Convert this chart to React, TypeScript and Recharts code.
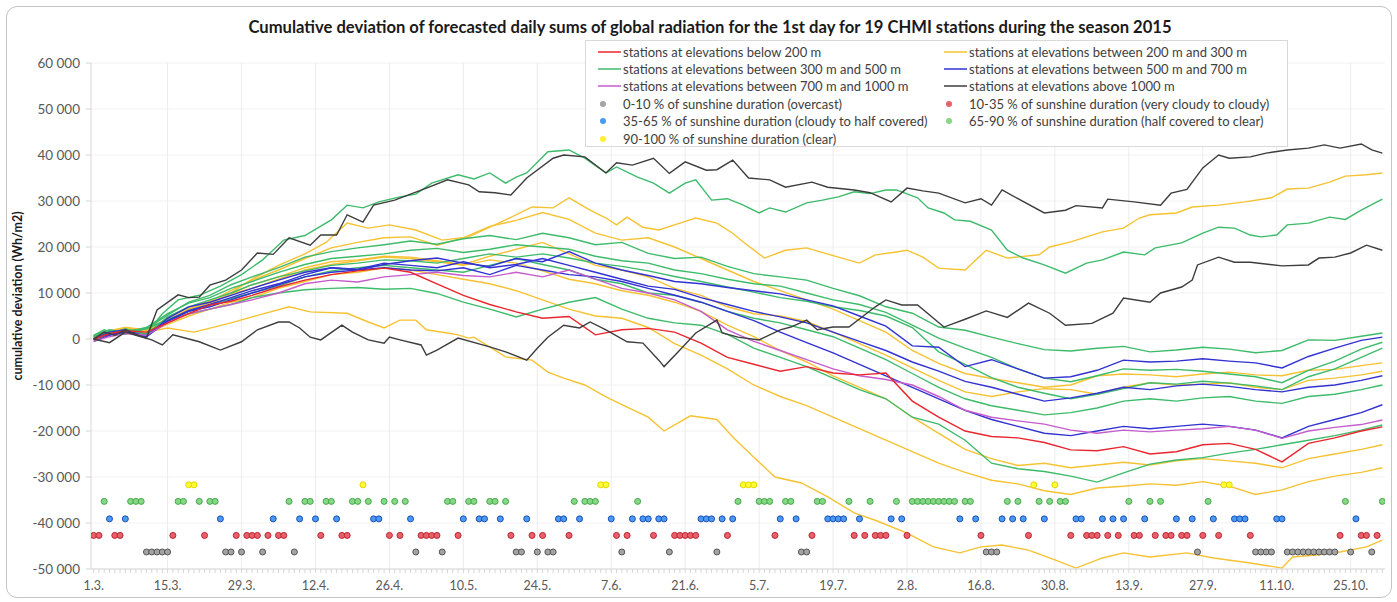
import React from "react";
import { ComposedChart, Line, Scatter, XAxis, YAxis, CartesianGrid, ReferenceLine } from "recharts";

const FONT = "Lato, 'Open Sans', sans-serif";

const xLabels = ["1.3.", "15.3.", "29.3.", "12.4.", "26.4.", "10.5.", "24.5.", "7.6.", "21.6.", "5.7.", "19.7.", "2.8.", "16.8.", "30.8.", "13.9.", "27.9.", "11.10.", "25.10."];
const labelDays = [0, 14, 28, 42, 56, 70, 84, 98, 112, 126, 140, 154, 168, 182, 196, 210, 224, 238];
const yTicks = [-50000, -40000, -30000, -20000, -10000, 0, 10000, 20000, 30000, 40000, 50000, 60000];

// days (0 = 1.3.) sampled for the bundle of stations
const midDays = [0, 3, 6, 10, 14, 18, 22, 26, 30, 35, 40, 45, 50, 55, 60, 65, 70, 75, 80, 85, 90, 95, 100, 105, 110, 115, 120, 125, 130, 135, 140, 145, 150, 155, 160, 165, 170, 175, 180, 185, 190, 195, 200, 205, 210, 215, 220, 225, 230, 235, 240, 244];

const redLow = [0, 1200, 1800, 1500, 3500, 5500, 7400, 8200, 9500, 11300, 12800, 14000, 14800, 15400, 14500, 12000, 9500, 7500, 5900, 4500, 4900, 900, 2000, 2300, 1500, -900, -4000, -5500, -7000, -6000, -7400, -7800, -7400, -13500, -17000, -20000, -21200, -21500, -22500, -24100, -24300, -23400, -25000, -24500, -23000, -22700, -24000, -26700, -22700, -21500, -20000, -19100];

const yellowB = [300, 1600, 2500, 2000, 4500, 6800, 8200, 10500, 12800, 15000, 17500, 19800, 21000, 22000, 22200, 20400, 22000, 24500, 25800, 27500, 26000, 23000, 21500, 22000, 20000, 17500, 15000, 12500, 10500, 8500, 6500, 4000, 1500, -2500, -5300, -7500, -8600, -9500, -10500, -10000, -8000, -7600, -7800, -8200, -7600, -7200, -7800, -8000, -6800, -6600, -5800, -5200];
const yellowC = [-300, 1000, 2000, 1500, 4000, 6500, 7800, 9800, 11800, 13500, 15500, 16800, 17200, 18000, 17800, 17000, 16200, 18000, 19500, 21000, 18500, 16000, 15000, 13500, 11000, 9500, 7000, 5500, 5000, 3800, 1500, -1000, -3500, -6300, -9000, -11500, -12500, -11500, -10800, -11000, -12000, -10500, -9500, -10000, -9800, -9500, -10500, -11000, -9000, -8500, -7800, -7000];
const yellowD = [0, 1500, 2200, 1800, 4000, 6500, 8000, 9800, 11000, 13000, 15000, 16200, 17000, 17800, 17500, 16800, 16000, 17200, 16500, 14800, 13000, 12000, 10500, 9500, 8000, 6000, 3000, 500, -2500, -5000, -8000, -10500, -13000, -17000, -20500, -24000, -26000, -27500, -27000, -28000, -27400, -26800, -27400, -26500, -26000, -26500, -27000, -28000, -26000, -25000, -24000, -23000];
const yellowE = [0, 1000, 1500, 1200, 3200, 5000, 6500, 8000, 9000, 11000, 12500, 14000, 14500, 15500, 15000, 14000, 13000, 12000, 10500, 8500, 6500, 5000, 4500, 2500, -1000, -3500, -6500, -10000, -12500, -14500, -17000, -19500, -22000, -24500, -27000, -29000, -30700, -31500, -33000, -33800, -32400, -32000, -31500, -31800, -31000, -32000, -33800, -32800, -31000, -29800, -29000, -28000];

const greenB = [500, 1800, 1200, 2200, 5200, 8000, 9500, 11800, 13500, 15500, 17800, 19000, 19800, 20500, 21300, 20600, 21800, 22500, 21600, 23000, 22000, 20500, 21000, 18600, 17500, 17800, 15800, 14200, 13500, 12800, 11000, 9400, 7000, 5600, 2600, 1900, 400, -1000, -2300, -2600, -2000, -1600, -2800, -2400, -1800, -2200, -3000, -2500, -200, -300, 600, 1300];
const greenC = [800, 2000, 1500, 2500, 5500, 7800, 9000, 11000, 12500, 14500, 16200, 17500, 18000, 18500, 19300, 19700, 18800, 19500, 20500, 20000, 19500, 18000, 17000, 16500, 15000, 14200, 13000, 12000, 11500, 10000, 8500, 7500, 5800, 3000, 200, -2000, -4000, -6500, -8500, -9300, -8000, -6500, -6800, -6600, -7000, -7600, -8200, -9500, -6800, -4800, -2200, -700];
const greenD = [200, 1200, 2200, 1000, 4800, 7000, 8500, 10000, 11800, 13500, 14800, 16000, 16500, 17200, 17000, 16500, 17500, 18500, 17800, 18500, 17600, 16500, 15800, 14800, 13600, 12500, 11300, 10200, 9000, 8200, 7000, 6200, 5000, 2500, -2800, -5500, -8400, -10500, -11800, -13000, -12000, -10800, -9500, -9800, -9200, -9600, -10200, -11000, -8200, -6500, -4000, -2000];
const greenE = [0, 1300, 1800, 2200, 4200, 6000, 7300, 8800, 10000, 11500, 13500, 14800, 15500, 16000, 15500, 15000, 14500, 16000, 17500, 16200, 15000, 13000, 12000, 10000, 9500, 8000, 6000, 4500, 3500, 2000, 500, -2000, -4500, -7500, -10500, -13000, -14500, -15500, -16500, -16000, -15000, -13500, -13000, -13500, -12800, -12500, -13500, -14000, -12500, -12000, -11000, -10000];
const greenF = [500, 1500, 1000, 2500, 4000, 5500, 6500, 7500, 9000, 10000, 10700, 11000, 11200, 10800, 11000, 9900, 8000, 6500, 4800, 6500, 8000, 9000, 6500, 4500, 3500, 3000, 1000, -2000, -4000, -6000, -8500, -11000, -13000, -17000, -18500, -22000, -27000, -28200, -28800, -29800, -31100, -29100, -27200, -26300, -25800, -24800, -24000, -23000, -22000, -21000, -19800, -18700];

const blueA = [0, 1500, 2000, 500, 4500, 7000, 8000, 9500, 11000, 12800, 14500, 15500, 15000, 16200, 17000, 17600, 16500, 15800, 17500, 16800, 19000, 16500, 15000, 13800, 12500, 12000, 11200, 10500, 9800, 8500, 7200, 5000, 2800, -1500, -1800, -6000, -4500, -6500, -8500, -8200, -6800, -4600, -5000, -4800, -4300, -4800, -5200, -6300, -3800, -2000, -300, 400];
const blueB = [-500, 800, 1500, 800, 4000, 6200, 7500, 9000, 10500, 12000, 14000, 15500, 15200, 16500, 16000, 15500, 16800, 15500, 16200, 17500, 16000, 14500, 13000, 11500, 10800, 9000, 7500, 6000, 4800, 3500, 1500, -500, -2500, -5000, -7000, -9200, -10500, -12000, -13500, -12800, -11800, -10500, -11000, -10200, -9800, -10300, -11000, -11500, -10500, -10000, -9000, -8000];
const blueC = [0, 1000, 1500, 500, 3800, 6000, 7000, 8500, 10000, 11800, 13500, 14500, 15000, 15500, 15000, 14800, 15500, 14000, 16000, 15000, 14000, 13500, 12500, 11000, 9500, 8000, 6000, 4000, 1500, -800, -3000, -5500, -8000, -10500, -13000, -15500, -17500, -19000, -20500, -21000, -20000, -19000, -19500, -19000, -18500, -19000, -19800, -21500, -19000, -17500, -16000, -14300];

const magentaA = [-500, 500, 1200, 800, 3500, 5500, 6500, 7500, 8500, 10000, 12000, 12800, 12400, 13500, 14000, 14500, 13800, 13500, 14500, 13500, 15000, 13000, 11000, 10000, 8500, 6000, 2000, -500, -2500, -4500, -6500, -8000, -8800, -10000, -12500, -15500, -17000, -17800, -18500, -19800, -20500, -19800, -20200, -19800, -19500, -19000, -19800, -21600, -20000, -19200, -18600, -17600];

// stations traced separately (day, value)
const blackTop = [[0, 0], [2, 1500], [4, 800], [6, 2000], [8, 1000], [10, 200], [12, 6300], [16, 9600], [18, 9000], [20, 9100], [22, 11700], [25, 12800], [28, 15000], [31, 18700], [34, 18400], [37, 22000], [41, 20400], [43, 22600], [46, 22600], [48, 27000], [51, 25400], [53, 29100], [57, 30200], [63, 32800], [67, 34600], [71, 33500], [73, 32000], [76, 31800], [79, 31300], [82, 35000], [87, 39300], [89, 40000], [93, 39600], [97, 36100], [99, 38300], [102, 37800], [106, 39300], [109, 36000], [112, 38500], [116, 36700], [118, 36800], [121, 38900], [124, 35000], [128, 34600], [131, 33000], [136, 34100], [139, 33000], [144, 32400], [147, 31800], [151, 29800], [154, 32800], [157, 32200], [160, 31700], [165, 29600], [168, 30500], [170, 29100], [172, 32400], [175, 30500], [180, 27400], [184, 28000], [186, 29000], [191, 28500], [192, 30400], [197, 29800], [202, 29100], [204, 31700], [207, 32500], [210, 37200], [213, 40000], [215, 39300], [219, 39600], [222, 40400], [226, 41100], [230, 41500], [233, 42200], [236, 41500], [240, 42400], [242, 41100], [244, 40400]];
const blackLow = [[0, 0], [3, -800], [6, 1500], [8, 800], [11, -200], [13, -1300], [15, 900], [20, -600], [24, -2400], [28, -600], [31, 2000], [35, 3700], [37, 3700], [39, 2400], [41, 400], [43, -200], [47, 3000], [49, 1500], [52, -200], [55, -900], [56, 400], [58, -200], [62, -1300], [63, -3500], [65, -2400], [69, 200], [75, -1700], [78, -2800], [82, -4600], [84, -2000], [86, 400], [89, 3000], [92, 2400], [94, 3700], [97, 2000], [101, -600], [104, -900], [107, -4600], [108, -6000], [111, -2400], [114, 1300], [118, 4100], [119, 1300], [122, 400], [126, -200], [130, 2000], [132, 2600], [135, 4100], [137, 2000], [140, 2600], [143, 2600], [148, 7000], [150, 8500], [153, 7400], [156, 7400], [161, 2600], [165, 4300], [169, 6100], [173, 4700], [177, 7800], [181, 5600], [184, 3000], [189, 3400], [193, 5600], [195, 8900], [200, 8000], [202, 10000], [206, 11300], [208, 12800], [209, 16100], [213, 17800], [216, 16700], [219, 16700], [225, 15900], [230, 16100], [232, 17600], [235, 17800], [238, 18700], [241, 20400], [244, 19300]];
const greenTop = [[0, 800], [2, 2000], [4, 1200], [6, 2200], [8, 1500], [10, 1200], [13, 5500], [16, 8500], [20, 9500], [24, 11500], [28, 14000], [32, 17200], [36, 21500], [40, 22500], [45, 25900], [48, 29100], [51, 28500], [54, 29800], [58, 30900], [61, 31500], [64, 33900], [69, 35700], [72, 34800], [75, 36100], [78, 33900], [80, 35200], [82, 36100], [86, 40700], [90, 41100], [93, 39300], [97, 36100], [99, 37400], [103, 35200], [106, 33900], [109, 31700], [112, 33900], [114, 34600], [117, 30200], [120, 30500], [123, 29100], [126, 27400], [128, 28500], [131, 27600], [135, 29600], [138, 30200], [141, 30900], [144, 32000], [147, 31600], [150, 32400], [152, 32400], [156, 30700], [158, 28500], [161, 27400], [163, 25900], [166, 25600], [170, 23700], [173, 19300], [176, 17600], [180, 16100], [184, 14300], [188, 16500], [191, 17200], [195, 18900], [199, 18300], [201, 19800], [206, 20900], [210, 23000], [213, 24300], [216, 24100], [219, 22600], [221, 22200], [224, 22600], [226, 24800], [230, 25200], [234, 26500], [237, 26000], [240, 28000], [244, 30400]];
const yellowTop = [[0, 500], [3, 1800], [6, 2500], [10, 1800], [14, 4000], [18, 6000], [22, 7500], [26, 10000], [30, 13000], [35, 16000], [40, 18500], [44, 21000], [48, 25200], [52, 24100], [56, 24800], [61, 23700], [66, 21500], [71, 22200], [78, 25900], [83, 28700], [87, 28500], [90, 30700], [94, 28000], [97, 26300], [99, 24800], [101, 26500], [104, 24300], [107, 23700], [111, 25200], [114, 26300], [118, 25200], [121, 23000], [123, 21100], [127, 17600], [131, 19300], [135, 19800], [141, 17800], [145, 16500], [148, 18300], [152, 18900], [154, 19300], [157, 17800], [160, 15400], [165, 15000], [169, 19300], [173, 17600], [179, 18300], [181, 20000], [185, 21100], [188, 22200], [191, 23300], [195, 24100], [198, 26300], [200, 27000], [205, 27400], [208, 28700], [213, 29100], [218, 29800], [223, 30700], [226, 32600], [230, 32800], [234, 34100], [237, 35400], [241, 35700], [244, 36100]];
const yellowLow = [[0, 0], [3, 1200], [6, 2000], [10, 1500], [14, 2400], [19, 1500], [26, 3500], [30, 4800], [37, 7000], [41, 5900], [48, 5600], [52, 3700], [55, 2400], [58, 4100], [61, 4100], [63, 2000], [67, 1300], [69, 900], [71, 200], [72, 400], [78, -3900], [83, -4600], [86, -7200], [89, -8500], [93, -10000], [97, -12600], [101, -14800], [105, -17000], [108, -20000], [113, -16700], [118, -17500], [121, -21300], [125, -25700], [129, -30000], [134, -31300], [139, -34300], [144, -37800], [148, -39400], [154, -42200], [159, -45200], [164, -46500], [168, -45200], [172, -44800], [177, -45900], [182, -48000], [186, -49800], [191, -47600], [195, -46500], [200, -47400], [207, -46500], [212, -47600], [219, -48700], [225, -49800], [227, -47400], [231, -47000], [236, -46300], [241, -45200], [244, -43700]];

// sunshine duration class of each day
const grayDays = [10, 11, 12, 13, 14, 25, 26, 28, 32, 38, 61, 66, 80, 81, 84, 86, 87, 100, 109, 118, 134, 135, 169, 170, 171, 209, 220, 221, 222, 223, 226, 227, 228, 229, 230, 231, 232, 233, 234, 235, 238, 242];
const redDays = [0, 1, 4, 5, 15, 21, 27, 29, 30, 31, 33, 35, 36, 43, 47, 48, 56, 58, 62, 63, 64, 65, 69, 79, 83, 85, 90, 99, 101, 106, 110, 111, 112, 113, 114, 120, 129, 136, 144, 146, 148, 149, 150, 154, 168, 177, 185, 188, 189, 190, 192, 194, 197, 198, 201, 203, 204, 206, 207, 210, 213, 219, 236, 240, 241, 243];
const blueDays = [3, 6, 24, 34, 39, 42, 46, 53, 54, 60, 70, 73, 74, 77, 82, 88, 89, 92, 98, 102, 104, 105, 107, 108, 115, 116, 117, 119, 121, 130, 133, 139, 140, 141, 142, 145, 151, 153, 164, 167, 172, 174, 176, 180, 186, 187, 191, 193, 195, 199, 205, 208, 212, 216, 217, 218, 224, 225, 239];
const greenDays = [2, 7, 8, 9, 16, 17, 20, 22, 23, 37, 40, 41, 44, 45, 49, 50, 52, 55, 57, 59, 67, 68, 71, 72, 75, 76, 78, 91, 93, 94, 95, 103, 122, 126, 127, 128, 131, 132, 137, 138, 143, 147, 152, 155, 156, 157, 158, 159, 160, 161, 162, 163, 165, 166, 173, 175, 179, 181, 183, 184, 196, 200, 202, 211, 237, 244];
const yellowDays = [18, 19, 51, 96, 97, 123, 124, 125, 178, 182, 214, 215];
// plotting level of each class on the value axis
const grayLevel = -46300;
const redLevel = -42700;
const blueLevel = -39100;
const greenLevel = -35300;
const yellowLevel = -31700;

const C = {
  red: "#e8262d",
  yellow: "#f6c232",
  green: "#3dbb6b",
  blue: "#3232d2",
  magenta: "#c45ccb",
  black: "#3d3d3d",
};

const fromMid = (vals: number[]) => midDays.map((d, i) => ({ d, v: vals[i] }));
const fromPairs = (p: number[][]) => p.map(([d, v]) => ({ d, v }));
const atLevel = (days: number[], v: number) => days.map((d) => ({ d, v }));

const series = [
  { key: "yF", color: C.yellow, data: fromPairs(yellowLow) },
  { key: "yE", color: C.yellow, data: fromMid(yellowE) },
  { key: "yD", color: C.yellow, data: fromMid(yellowD) },
  { key: "yC", color: C.yellow, data: fromMid(yellowC) },
  { key: "yB", color: C.yellow, data: fromMid(yellowB) },
  { key: "yA", color: C.yellow, data: fromPairs(yellowTop) },
  { key: "gF", color: C.green, data: fromMid(greenF) },
  { key: "gE", color: C.green, data: fromMid(greenE) },
  { key: "gD", color: C.green, data: fromMid(greenD) },
  { key: "gC", color: C.green, data: fromMid(greenC) },
  { key: "gB", color: C.green, data: fromMid(greenB) },
  { key: "gA", color: C.green, data: fromPairs(greenTop) },
  { key: "bC", color: C.blue, data: fromMid(blueC) },
  { key: "bB", color: C.blue, data: fromMid(blueB) },
  { key: "bA", color: C.blue, data: fromMid(blueA) },
  { key: "m", color: C.magenta, data: fromMid(magentaA) },
  { key: "r", color: C.red, data: fromMid(redLow) },
  { key: "kB", color: C.black, data: fromPairs(blackLow) },
  { key: "kA", color: C.black, data: fromPairs(blackTop) },
];

const dots = [
  { key: "gray", fill: "#a3a3a3", stroke: "#555555", data: atLevel(grayDays, grayLevel) },
  { key: "red", fill: "#e8616a", stroke: "#bb2430", data: atLevel(redDays, redLevel) },
  { key: "blue", fill: "#4a9af2", stroke: "#1c4fb8", data: atLevel(blueDays, blueLevel) },
  { key: "green", fill: "#86d786", stroke: "#45a84a", data: atLevel(greenDays, greenLevel) },
  { key: "yellow", fill: "#ffff33", stroke: "#e6d400", data: atLevel(yellowDays, yellowLevel) },
];

const allDays = Array.from({ length: 245 }, (_, i) => i);

const fmtY = (v: number) => (v === 0 ? "0" : `${v < 0 ? "-" : ""}${Math.abs(v) / 1000} 000`);

const XTick = (props: any) => {
  const { x, y, payload } = props;
  const i = labelDays.indexOf(payload.value);
  if (i < 0) return <g />;
  return (
    <text x={x} y={y + 15} textAnchor="middle" fontSize={12.5} fill="#595959" fontFamily={FONT}>
      {xLabels[i]}
    </text>
  );
};

const legendLeft = [
  { kind: "line", color: C.red, text: "stations at elevations below 200 m" },
  { kind: "line", color: C.green, text: "stations at elevations between 300 m and 500 m" },
  { kind: "line", color: C.magenta, text: "stations at elevations between 700 m and 1000 m" },
  { kind: "dot", color: "#a3a3a3", text: "0-10 % of sunshine duration (overcast)" },
  { kind: "dot", color: "#4a9af2", text: "35-65 % of sunshine duration (cloudy to half covered)" },
  { kind: "dot", color: "#ffee33", text: "90-100 % of sunshine duration (clear)" },
];
const legendRight = [
  { kind: "line", color: C.yellow, text: "stations at elevations between 200 m and 300 m" },
  { kind: "line", color: C.blue, text: "stations at elevations between 500 m and 700 m" },
  { kind: "line", color: C.black, text: "stations at elevations above 1000 m" },
  { kind: "dot", color: "#e8616a", text: "10-35 % of sunshine duration (very cloudy to cloudy)" },
  { kind: "dot", color: "#86d786", text: "65-90 % of sunshine duration (half covered to clear)" },
];

function LegendItem({ item, top, left }: { item: any; top: number; left: number }) {
  return (
    <div style={{ position: "absolute", top, left, height: 17, display: "flex", alignItems: "center", whiteSpace: "nowrap" }}>
      <svg width={24} height={10} style={{ marginRight: 1 }}>
        {item.kind === "line" ? (
          <line x1={0} y1={5} x2={23} y2={5} stroke={item.color} strokeWidth={1.5} />
        ) : (
          <circle cx={5} cy={5} r={3} fill={item.color} />
        )}
      </svg>
      <span style={{ fontSize: 13, color: "#404040", fontFamily: FONT }}>{item.text}</span>
    </div>
  );
}

export default function App() {
  return (
    <div style={{ position: "absolute", left: 0, top: 0, width: 1397, height: 602, background: "#fff", fontFamily: FONT }}>
      <div style={{ position: "absolute", left: 6, top: 6, width: 1384, height: 590, border: "1px solid #c4c4c4", borderRadius: 11 }} />
      <div style={{ position: "absolute", left: 0, top: 17, width: 1420, textAlign: "center", fontSize: 16.6, fontWeight: 700, color: "#1a1a1a" }}>
        Cumulative deviation of forecasted daily sums of global radiation for the 1st day for 19 CHMI stations during the season 2015
      </div>
      <ComposedChart width={1397} height={602} margin={{ top: 63, right: 12, bottom: 0, left: 0 }} style={{ position: "absolute", left: 0, top: 0 }}>
        <CartesianGrid vertical={false} stroke="#f2f2f2" />
        <XAxis
          dataKey="d"
          type="number"
          domain={[-0.5, 244.5]}
          ticks={allDays}
          interval={0}
          height={33}
          tick={<XTick />}
          tickSize={4}
          tickLine={{ stroke: "#d6d6d6" }}
          axisLine={{ stroke: "#d6d6d6" }}
          allowDataOverflow
        />
        <YAxis
          type="number"
          domain={[-50000, 60000]}
          ticks={yTicks}
          width={91}
          tickFormatter={fmtY}
          tick={{ fontSize: 13.5, fill: "#595959", fontFamily: FONT }}
          tickSize={5}
          tickMargin={6}
          tickLine={{ stroke: "#d6d6d6" }}
          axisLine={{ stroke: "#d6d6d6" }}
          allowDataOverflow
          label={() => (
            <text x={22} y={296} transform="rotate(-90 22 296)" textAnchor="middle" fontSize={12.5} fontWeight={700} fill="#1a1a1a" fontFamily={FONT}>
              cumulative deviation (Wh/m2)
            </text>
          )}
        />
        {labelDays.slice(1).map((d) => (
          <ReferenceLine key={d} x={d} stroke="#ececec" strokeWidth={1} />
        ))}
        {series.map((s) => (
          <Line
            key={s.key}
            data={s.data}
            dataKey="v"
            type="linear"
            stroke={s.color}
            strokeWidth={1.4}
            dot={false}
            activeDot={false}
            isAnimationActive={false}
          />
        ))}
        {dots.map((g) => (
          <Scatter
            key={g.key}
            data={g.data}
            dataKey="v"
            isAnimationActive={false}
            shape={(p: any) => <circle cx={p.cx} cy={p.cy} r={3} fill={g.fill} stroke={g.stroke} strokeWidth={1} />}
          />
        ))}
      </ComposedChart>
      <div style={{ position: "absolute", left: 585, top: 40, width: 701, height: 105, background: "#fff", border: "1px solid #d9d9d9" }}>
        {legendLeft.map((it, i) => (
          <LegendItem key={i} item={it} top={2 + i * 17.4} left={12} />
        ))}
        {legendRight.map((it, i) => (
          <LegendItem key={i} item={it} top={2 + i * 17.4} left={358} />
        ))}
      </div>
    </div>
  );
}
